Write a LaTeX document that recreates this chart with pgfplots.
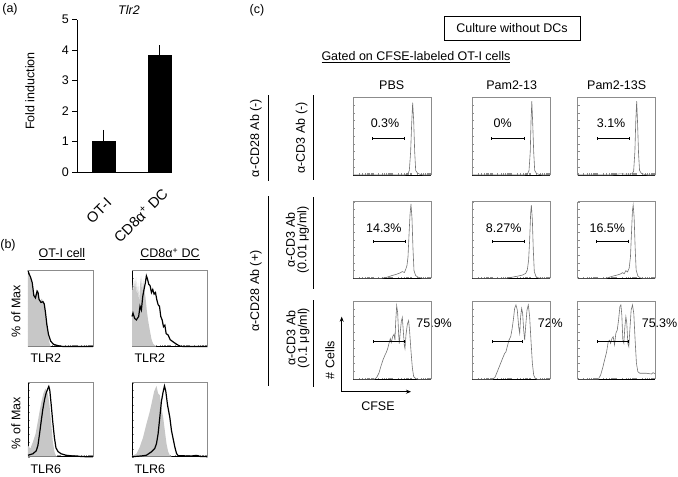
\documentclass[border=0pt]{standalone}
\usepackage{pgfplots}
\pgfplotsset{compat=1.18}
\usepackage{fontspec}
\setmainfont{Liberation Sans}
\usetikzlibrary{arrows.meta}
\pgfplotsset{
  hist/.style={scale only axis, anchor=north west,
    xmin=0, xmax=100, ymin=0, ymax=100, enlargelimits=false,
    axis x line*=bottom, axis y line*=left,
    axis line style={line width=0.6pt},
    xtick={0,7.5,11.9,15,17.5,19.5,21.1,22.6,23.9,25,32.5,36.9,40,42.5,44.5,46.1,47.6,48.9,50,57.5,61.9,65,67.5,69.5,71.1,72.6,73.9,75,82.5,86.9,90,92.5,94.5,96.1,97.6,98.9},
    ytick={0,10,...,100},
    xticklabels={}, yticklabels={},
    tick align=inside, major tick length=1.8pt,
    tick style={black!45, line width=0.4pt},
    clip=false},
  histc/.style={hist, width=77.7pt, y axis line style={black!45}},
}
\newcommand{\topright}[1]{\draw[#1, line width=0.5pt] (rel axis cs:0,1) -- (rel axis cs:1,1) -- (rel axis cs:1,0);}
\newcommand{\gate}[4][0.8pt]{\draw[line width=#1, {Bar[width=3pt]}-{Bar[width=3pt]}] (axis cs:#2,#4) -- (axis cs:#3,#4);}
\begin{document}
\begin{tikzpicture}[font=\fontsize{12.5}{14}\selectfont]
\useasboundingbox (0,0) rectangle (678pt,-477pt);

\begin{scope}[x=1pt, y=-1pt]
% ---------------- panel (a) texts
\node at (10,9) {(a)};
\node at (129,10) {\itshape Tlr2};
\node[rotate=90] at (30,91) {Fold induction};
\node[rotate=45, anchor=base east, inner sep=0pt, font=\fontsize{14.5}{16}\selectfont] at (112.5,204) {OT-I};
\node[rotate=45, anchor=base east, inner sep=0pt, font=\fontsize{14.5}{16}\selectfont] at (169,195) {CD8α\textsuperscript{+} DC};
% ---------------- panel (b) texts
\node at (8,245) {(b)};
\node at (62,254) {\underline{OT-I cell}};
\node at (170,254) {\underline{CD8α\textsuperscript{+} DC}};
\node[rotate=90] at (16,311) {\% of Max};
\node[rotate=90] at (16,423) {\% of Max};
\node[anchor=west] at (27,358.5) {TLR2};
\node[anchor=west] at (131,358.5) {TLR2};
\node[anchor=west] at (27,469) {TLR6};
\node[anchor=west] at (131,469) {TLR6};
% ---------------- panel (c) texts
\node at (257,10) {(c)};
\draw[line width=0.8pt] (444,16) rectangle (580,40.7);
\node at (512,28.5) {Culture without DCs};
\node at (416,57) {\underline{Gated on CFSE-labeled OT-I cells}};
\node at (391.7,85) {PBS};
\node at (511.7,85) {Pam2-13};
\node at (616.7,85) {Pam2-13S};
\node[rotate=90] at (256,138) {α-CD28 Ab (-)};
\draw[line width=0.8pt] (268,95) -- (268,181);
\node[rotate=90] at (256,291) {α-CD28 Ab (+)};
\draw[line width=0.8pt] (268,196) -- (268,386);
\node[rotate=90] at (301.7,138) {α-CD3 Ab (-)};
\draw[line width=0.8pt] (313,95) -- (313,180);
\node[rotate=90, align=center, font=\fontsize{12.5}{11.5}\selectfont] at (297.5,240) {α-CD3 Ab\\(0.01 μg/ml)};
\draw[line width=0.8pt] (313,197) -- (313,289);
\node[rotate=90, align=center, font=\fontsize{12.5}{11.5}\selectfont] at (298,338) {α-CD3 Ab\\(0.1 μg/ml)};
\draw[line width=0.8pt] (313,300) -- (313,387);
\draw[line width=0.8pt, -{Stealth[length=5pt, width=4pt]}] (341.7,391.7) -- (341.7,316.7);
\draw[line width=0.8pt, -{Stealth[length=5pt, width=4pt]}] (341.7,391.7) -- (411,391.7);
\node[rotate=90] at (330,360) {\# Cells};
\node at (378,406) {CFSE};
\end{scope}

% ---------------- panel (a)
\begin{axis}[at={(77.3pt,-19.5pt)}, anchor=north west, scale only axis,
  width=93.4pt, height=152.5pt, xmin=-0.475, xmax=1.2, ymin=0, ymax=5,
  ybar, bar width=23pt,
  axis x line=bottom, axis y line=left, axis line style={-, line width=0.8pt},
  xtick={0,1}, xticklabels={},
  xtick style={draw=none},
  ytick={0,1,2,3,4,5}, tick align=outside, major tick length=5pt,
  y tick style={line width=0.8pt, black},
  /pgf/number format/assume math mode=true,
  tick label style={font=\fontsize{12.5}{14}\selectfont},
  clip=false]
\addplot[fill=black, draw=black,
  error bars/.cd, y dir=plus, y explicit,
  error bar style={line width=1pt}, error mark options={mark size=4pt, line width=1pt}]
  coordinates {(0,1) +- (0,0.25) (1,3.83) +- (0,0.2)};
\end{axis}

% ---------------- panel (b)
\begin{axis}[hist, at={(28pt,-270.5pt)}, width=65pt, height=76pt]
\addplot[fill=black!22, draw=none] coordinates {(0,97) (2,92) (4,88) (6,82) (8,70) (10,66) (12,70) (14,74) (15.5,70) (17,62) (19,60) (21,63) (23,60) (25,55) (27,45) (29,30) (31,15) (33,5) (35,0)} \closedcycle;
\addplot[black, line width=1.2pt] coordinates {(0,100) (1.5,96) (4,91) (6.5,84) (9,67) (11.5,64) (14,73) (15.5,71) (17,62) (20,58) (23,59) (25,56) (27,44) (29,29) (31.5,16) (35,7) (39,3) (46.5,1) (54,0) (100,0)};
\topright{black!45}
\end{axis}

\begin{axis}[hist, at={(132pt,-270.5pt)}, width=75.7pt, height=76pt]
\addplot[fill=black!22, draw=none] coordinates {(0,84) (1.3,71) (2.7,89) (4,75) (5.3,91) (6.6,66) (8,84) (9.3,57) (10.6,80) (12,93) (13.3,71) (14.6,89) (15.9,75) (17.7,66) (19.5,48) (21.2,35) (23.5,21.5) (25.7,10) (27.9,3.5) (32,0)} \closedcycle;
\addplot[black, line width=1.2pt] coordinates {(0,39.5) (1.3,44) (3.5,37) (5.8,35) (8.8,39.5) (10.6,53) (12.4,48) (14.2,66) (15.9,75) (17.7,84) (19,93) (20.4,89) (22.1,82) (23.9,80) (25.7,71) (27.4,75) (29.2,69) (31,71) (32.7,62) (34.5,55) (36.3,53) (38,39.5) (39.8,35) (41.6,26) (43.4,28) (45.1,17) (47.8,15) (50.4,9) (54.4,6) (58.8,3) (63.3,0.5) (67.7,0) (100,0)};
\topright{black!45}
\end{axis}

\begin{axis}[hist, at={(28pt,-382.7pt)}, width=65pt, height=74pt]
\addplot[fill=black!22, draw=none] coordinates {(0,15) (3.6,11) (7.6,20) (11.7,31) (15.2,48) (17.8,61) (20.8,75) (23.9,86) (26.9,92) (28.9,89) (31,83) (33,70) (35.5,48) (38,22) (40.6,7) (43,1) (45.7,0)} \closedcycle;
\addplot[black, line width=1.2pt] coordinates {(0,2) (7.6,4) (12.7,8) (15.2,15) (17.8,31) (20.3,48) (22.8,64) (25.4,77) (27.9,86) (30.5,92) (32,95) (33.5,90) (35.5,72) (38,48) (40.6,26) (43,12) (46.2,7) (50.8,4) (58.4,2) (68.5,1) (88.8,0) (100,0)};
\topright{black!45}
\end{axis}

\begin{axis}[hist, at={(132pt,-382.7pt)}, width=75.7pt, height=74pt]
\addplot[fill=black!22, draw=none] coordinates {(0,1) (5.8,4) (10.2,13) (14.6,26) (19,44) (23.5,61) (26.5,75) (29.2,88) (32.3,95.6) (34.5,85.5) (36.7,83) (38.9,66) (41.2,53) (43.4,35) (45.6,17.5) (47.8,6.6) (50,2) (52.2,0)} \closedcycle;
\addplot[black, line width=1.2pt] coordinates {(0,0) (12.4,1) (19,2) (25.7,6.6) (30,11) (32.3,17.5) (34.5,31) (36.7,53) (38.9,75) (41.2,88) (42.9,95.6) (44.7,88) (46.9,70) (50,53) (52.2,35) (54.4,24) (56.6,13) (58.8,4.4) (61,1.3) (78.8,1) (85.4,1.8) (89.8,0.4) (100,0)};
\topright{black!45}
\end{axis}

% ---------------- panel (c)
% row 1
\begin{axis}[histc, at={(353.3pt,-97.3pt)}, height=77.7pt]
\addplot[black!55, line width=0.6pt] coordinates {(0,0) (66.5,0) (70,1.3) (72.1,5.8) (73.8,30) (75.1,65.5) (76.4,93) (77.7,70) (79,30) (80.3,5.8) (82.8,2.2) (85.8,1) (90,0) (100,0)};
\gate{24.5}{66.5}{47}
\node at (axis cs:40.8,67) {0.3\%};
\topright{black!45}
\end{axis}
\begin{axis}[histc, at={(472.3pt,-97.3pt)}, height=77.7pt]
\addplot[black!55, line width=0.6pt] coordinates {(0,0) (67,0) (71,1.3) (73,5.8) (74.6,30) (75.6,70) (76.6,95) (77.8,65) (79,30) (80.3,6) (82.5,2) (86,0.8) (90,0) (100,0)};
\gate{24.5}{67.3}{47}
\node at (axis cs:39,67) {0\%};
\topright{black!45}
\end{axis}
\begin{axis}[histc, at={(577.7pt,-97.3pt)}, height=77.7pt]
\addplot[black!55, line width=0.6pt] coordinates {(0,0) (45,0) (50,1) (55,1.5) (60,1.2) (66,1) (70,1.5) (72,5) (73.6,30) (74.7,68) (75.9,95) (77,68) (78.3,28) (79.6,6) (82,2) (86,0.8) (90,0) (100,0)};
\gate{24.5}{67.3}{47}
\node at (axis cs:43,67) {3.1\%};
\topright{black!45}
\end{axis}

% row 2
\begin{axis}[histc, at={(353.3pt,-201.7pt)}, height=76.6pt]
\addplot[black!55, line width=0.6pt] coordinates {(0,0) (36.5,0) (42.9,1.3) (49.4,3.5) (55.8,5.3) (60.1,7) (63.1,8.8) (65.7,7.5) (67.4,11.5) (69.1,16.8) (70.4,27.9) (71.7,56.6) (73,83) (74.2,97) (75.5,79) (76.8,39) (78.1,10) (80.3,3.5) (83.7,1.3) (88.8,0) (100,0)};
\gate{25}{67}{48.7}
\node at (axis cs:39.3,66) {14.3\%};
\topright{black!45}
\end{axis}
\begin{axis}[histc, at={(472.3pt,-201.7pt)}, height=76.6pt]
\addplot[black!55, line width=0.6pt] coordinates {(0,0) (44.2,0) (50.6,1.3) (59.2,3) (64.8,4.3) (68.7,6.5) (70.8,10.9) (72.5,24) (73.8,50) (75.1,84.8) (76,95.6) (77.3,76) (78.5,37) (79.8,8.7) (82,2.2) (85.4,0.4) (89.3,0) (100,0)};
\gate{25.7}{67.8}{48.7}
\node at (axis cs:40.4,66) {8.27\%};
\topright{black!45}
\end{axis}
\begin{axis}[histc, at={(577.7pt,-201.7pt)}, height=76.6pt]
\addplot[black!55, line width=0.6pt] coordinates {(0,0) (36.3,0) (40.6,1.3) (45.7,3) (50.9,4.3) (55.1,5.7) (57.7,7.4) (59.8,6) (62,10) (64.1,8.3) (66.2,13) (67.9,28) (69.2,58.7) (70.5,89) (71.4,95.6) (72.6,80) (73.9,41) (75.2,10.9) (77.4,3) (80.8,0.4) (84.2,0) (100,0)};
\gate{23.2}{65.2}{48.7}
\node at (axis cs:38.1,66) {16.5\%};
\topright{black!45}
\end{axis}

% row 3
\begin{axis}[histc, at={(353.3pt,-301pt)}, height=78.3pt]
\addplot[black!55, line width=0.6pt] coordinates {(0,0) (27,0) (30,2.2) (33,8) (35.6,16.8) (38.2,24.8) (40.8,31) (42.5,34.5) (44.2,39) (45.9,45.6) (47.6,52) (48.9,47) (50.6,54.4) (52.4,57.5) (53.6,50) (54.5,72) (55.8,94) (57.1,85) (58.4,56.6) (59.2,45.6) (60.5,61) (61.8,74) (63.1,79) (64.4,61) (65.7,43) (66.5,39) (67.8,56.6) (69.5,70) (71.2,75) (72.5,61) (74.2,36.7) (76,14.6) (77.7,3.5) (80.3,0.9) (83.7,0) (100,0)};
\gate[1.1pt]{25}{67}{48}
\node at (axis cs:104,71.5) {75.9\%};
\topright{black!45}
\end{axis}
\begin{axis}[histc, at={(472.3pt,-301pt)}, height=78.3pt]
\addplot[black!55, line width=0.6pt] coordinates {(0,0) (26.2,0) (29.2,2.6) (32.2,9.8) (35.6,18.3) (39,26.8) (41.6,33) (43.3,35) (45,41.7) (47.2,50) (49.4,54.5) (51,63) (52.8,75.7) (54.5,90.6) (56.2,95) (57.9,88.5) (59.7,67) (61,58.7) (62.2,80) (63.5,90.6) (64.8,84) (66.1,63) (67.4,50) (68.7,68) (70.4,88.5) (72.1,95) (73.8,80) (75.5,50) (77.3,20.4) (79,5.5) (81.1,0.9) (83.7,0) (100,0)};
\gate[1.1pt]{25}{65.6}{48}
\node at (axis cs:100.4,71.5) {72\%};
\topright{black!45}
\end{axis}
\begin{axis}[histc, at={(577.7pt,-301pt)}, height=78.3pt]
\addplot[black!55, line width=0.6pt] coordinates {(0,0) (26.5,0) (29.5,5.5) (32,14) (34.6,24.7) (37.2,35) (39.3,48) (41,50) (42.3,46) (44,52) (45.7,54.5) (47.4,44) (49.1,58.7) (50.9,63) (52.6,75.7) (54.3,93) (55.6,95) (56.8,82) (58.1,50) (59.4,46) (60.7,67) (62,80) (63.2,71.5) (64.5,46) (65.8,41.7) (67.1,63) (68.8,88.5) (70.5,95) (72.2,84) (73.9,50) (75.6,20.4) (77.4,9.8) (79.9,7.7) (88.5,7.7) (94.9,6.8) (97,8.5) (100,6.8)};
\gate[1.1pt]{24.4}{65.8}{48}
\node at (axis cs:105.3,71.5) {75.3\%};
\topright{black!45}
\end{axis}

\end{tikzpicture}
\end{document}
